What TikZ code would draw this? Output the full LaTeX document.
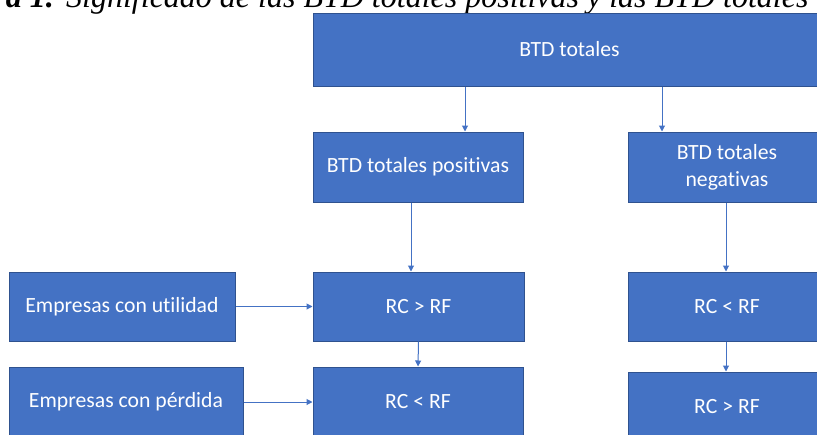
\documentclass[tikz,border=0pt]{standalone}
\usepackage{fontspec}
\setmainfont{Carlito}[Ligatures=NoCommon]
\newfontfamily\timesfont{Liberation Serif}
\usetikzlibrary{arrows.meta}
\definecolor{boxblue}{HTML}{4472C4}
\definecolor{boxedge}{HTML}{2F528F}
\begin{document}
\begin{tikzpicture}[x=1pt,y=-1pt,
  bx/.style={draw=boxedge, line width=1pt, fill=boxblue, text=white,
    inner sep=0pt, align=center, font=\fontsize{21.7}{27}\selectfont},
  conn/.style={draw=boxblue, line width=1pt, -{Triangle[length=6pt,width=6pt]}}]
\useasboundingbox (0,0) rectangle (817,434);
% title (cropped at the top in the reference)
\node[anchor=base east, inner sep=0pt, font=\timesfont\bfseries\itshape\fontsize{32}{36}\selectfont] (capnum) at (54,7) {Figura 1.};
\node[anchor=base west, inner sep=0pt, font=\timesfont\itshape\fontsize{32}{36}\selectfont] (captxt) at (66,7) {Significado de las BTD totales positivas y las BTD totales negativas};
% boxes
\node[bx, minimum width=513pt, minimum height=73pt] (top) at (569.5,49.5) {BTD totales};
\node[bx, minimum width=210pt, minimum height=70pt] (pos) at (418,167) {BTD totales positivas};
\node[bx, minimum width=198pt, minimum height=70pt] (neg) at (727,167) {BTD totales\\negativas};
\node[bx, minimum width=211pt, minimum height=69pt] (rca) at (418.5,306.5) {RC > RF};
\node[bx, minimum width=210pt, minimum height=70pt] (rcb) at (418,402) {RC < RF};
\node[bx, minimum width=198pt, minimum height=69pt] (rcc) at (727,306.5) {RC < RF};
\node[bx, minimum width=198pt, minimum height=70pt] (rcd) at (727,407) {RC > RF};
\node[bx, minimum width=226pt, minimum height=69pt] (eu) at (122,306.5) {Empresas con utilidad};
\node[bx, minimum width=234pt, minimum height=70pt] (ep) at (126,402) {Empresas con pérdida};
% connectors
\draw[conn] (top.south -| 465,0) -- (pos.north -| 465,0);
\draw[conn] (top.south -| 662,0) -- (neg.north -| 662,0);
\draw[conn] (pos.south -| 411,0) -- (rca.north -| 411,0);
\draw[conn] (neg.south -| 726,0) -- (rcc.north -| 726,0);
\draw[conn] (eu.east) -- (rca.west |- eu.east);
\draw[conn] (ep.east) -- (rcb.west |- ep.east);
\draw[conn] (rca.south) -- (rcb.north);
\draw[conn] (rcc.south -| 726,0) -- (rcd.north -| 726,0);
\end{tikzpicture}
\end{document}
